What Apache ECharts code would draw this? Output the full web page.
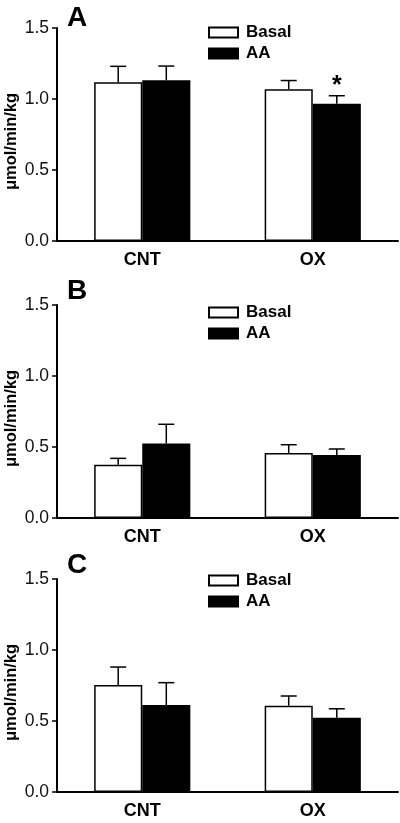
<!DOCTYPE html>
<html>
<head>
<meta charset="utf-8">
<script src="https://cdn.jsdelivr.net/npm/echarts@6/dist/echarts.min.js"></script>
<style>html,body{margin:0;padding:0;background:#fff}#c{width:400px;height:823px}</style>
</head>
<body>
<div id="c"></div>
<script>
const categories = ['CNT', 'OX'];
const seriesNames = ['Basal', 'AA'];
const panelLabels = ['A', 'B', 'C'];
const yTickLabels = ['0.0', '0.5', '1.0', '1.5'];
const yTitle = 'μmol/min/kg';

// Panel A
const basalA = [1.118, 1.068];
const basalErrA = [0.112, 0.062];
const aaA = [1.132, 0.967];
const aaErrA = [0.100, 0.056];
const sigA = ['', '*'];
// Panel B
const basalB = [0.375, 0.458];
const basalErrB = [0.045, 0.058];
const aaB = [0.525, 0.444];
const aaErrB = [0.135, 0.042];
const sigB = ['', ''];
// Panel C
const basalC = [0.754, 0.607];
const basalErrC = [0.126, 0.069];
const aaC = [0.612, 0.523];
const aaErrC = [0.158, 0.063];
const sigC = ['', ''];

const panels = [
  {basal: basalA, basalErr: basalErrA, aa: aaA, aaErr: aaErrA, sig: sigA},
  {basal: basalB, basalErr: basalErrB, aa: aaB, aaErr: aaErrB, sig: sigB},
  {basal: basalC, basalErr: basalErrC, aa: aaC, aaErr: aaErrC, sig: sigC}
];

const FONT = '"Liberation Sans", Arial, sans-serif';
const gridTops = [28, 305, 579];
const gridH = 213;
const legendTops = [24, 304, 572];
const labelTops = [4, 277, 551];
const BAR_FRAC = 0.282;

const chart = echarts.init(document.getElementById('c'), null, {renderer: 'canvas'});

const option = {
  animation: false,
  backgroundColor: '#fff',
  textStyle: {fontFamily: FONT},
  title: [], grid: [], xAxis: [], yAxis: [], legend: [], series: []
};

panels.forEach((p, k) => {
  option.title.push({
    text: panelLabels[k], left: 67, top: labelTops[k], padding: 0,
    textStyle: {fontFamily: FONT, fontSize: 28, fontWeight: 'bold', color: '#000'}
  });
  option.grid.push({left: 57, right: 2, top: gridTops[k], height: gridH, containLabel: false, outerBoundsMode: 'none'});
  option.xAxis.push({
    type: 'category', gridIndex: k, data: categories,
    axisLine: {lineStyle: {color: '#000', width: 2}},
    axisTick: {show: false},
    axisLabel: {color: '#000', fontSize: 18, fontWeight: 'bold', margin: 10, fontFamily: FONT}
  });
  option.yAxis.push({
    type: 'value', gridIndex: k, min: 0, max: 1.5, interval: 0.5,
    name: yTitle, nameLocation: 'middle', nameGap: 37, nameMoveOverlap: false,
    nameTextStyle: {color: '#000', fontSize: 16.5, fontWeight: 'bold', fontFamily: FONT, padding: [0, 14, 0, 0]},
    axisLine: {show: true, lineStyle: {color: '#000', width: 2}},
    axisTick: {show: true, length: 5, lineStyle: {color: '#000', width: 1.5}},
    splitLine: {show: false},
    axisLabel: {color: '#111', fontSize: 17.5, margin: 8, fontFamily: FONT,
      formatter: (v) => yTickLabels[Math.round(v / 0.5)]}
  });
  option.legend.push({
    orient: 'vertical', left: 208, top: legendTops[k], padding: 0,
    itemWidth: 29, itemHeight: 10, itemGap: 4, icon: 'rect',
    data: seriesNames,
    selectedMode: false,
    textStyle: {fontFamily: FONT, fontSize: 17, fontWeight: 'bold', color: '#000', lineHeight: 16, padding: [0, 0, 0, 3]}
  });
  option.series.push({
    type: 'bar', name: 'Basal', xAxisIndex: k, yAxisIndex: k,
    data: p.basal, barWidth: (BAR_FRAC * 100) + '%', barGap: '0%',
    itemStyle: {color: '#fff', borderColor: '#000', borderWidth: 1.5}
  });
  option.series.push({
    type: 'bar', name: 'AA', xAxisIndex: k, yAxisIndex: k,
    data: p.aa, barWidth: (BAR_FRAC * 100) + '%', barGap: '0%',
    itemStyle: {color: '#000', borderColor: '#000', borderWidth: 1.5}
  });
  [[p.basal, p.basalErr, -1], [p.aa, p.aaErr, 1]].forEach(([vals, errs, dir]) => {
    option.series.push({
      type: 'custom', xAxisIndex: k, yAxisIndex: k, z: 5, silent: true,
      data: vals.map((v, i) => [i, v, errs[i]]),
      renderItem: function (params, api) {
        const ci = api.value(0), v = api.value(1), e = api.value(2);
        const s = p.sig[ci];
        const base = api.coord([ci, v]);
        const top = api.coord([ci, v + e]);
        const band = api.size([1, 0])[0];
        const x = base[0] + dir * band * BAR_FRAC / 2;
        const cap = 8;
        const children = [
          {type: 'line', shape: {x1: x, y1: base[1], x2: x, y2: top[1]}, style: {stroke: '#000', lineWidth: 1.5}},
          {type: 'line', shape: {x1: x - cap, y1: top[1], x2: x + cap, y2: top[1]}, style: {stroke: '#000', lineWidth: 1.5}}
        ];
        if (dir > 0 && s) {
          children.push({type: 'text', x: x, y: top[1] + 3,
            style: {text: s, textAlign: 'center', textVerticalAlign: 'bottom', fontSize: 25, fontWeight: 'bold', fontFamily: FONT, fill: '#000'}});
        }
        return {type: 'group', children: children};
      }
    });
  });
});

chart.setOption(option);
</script>
</body>
</html>
